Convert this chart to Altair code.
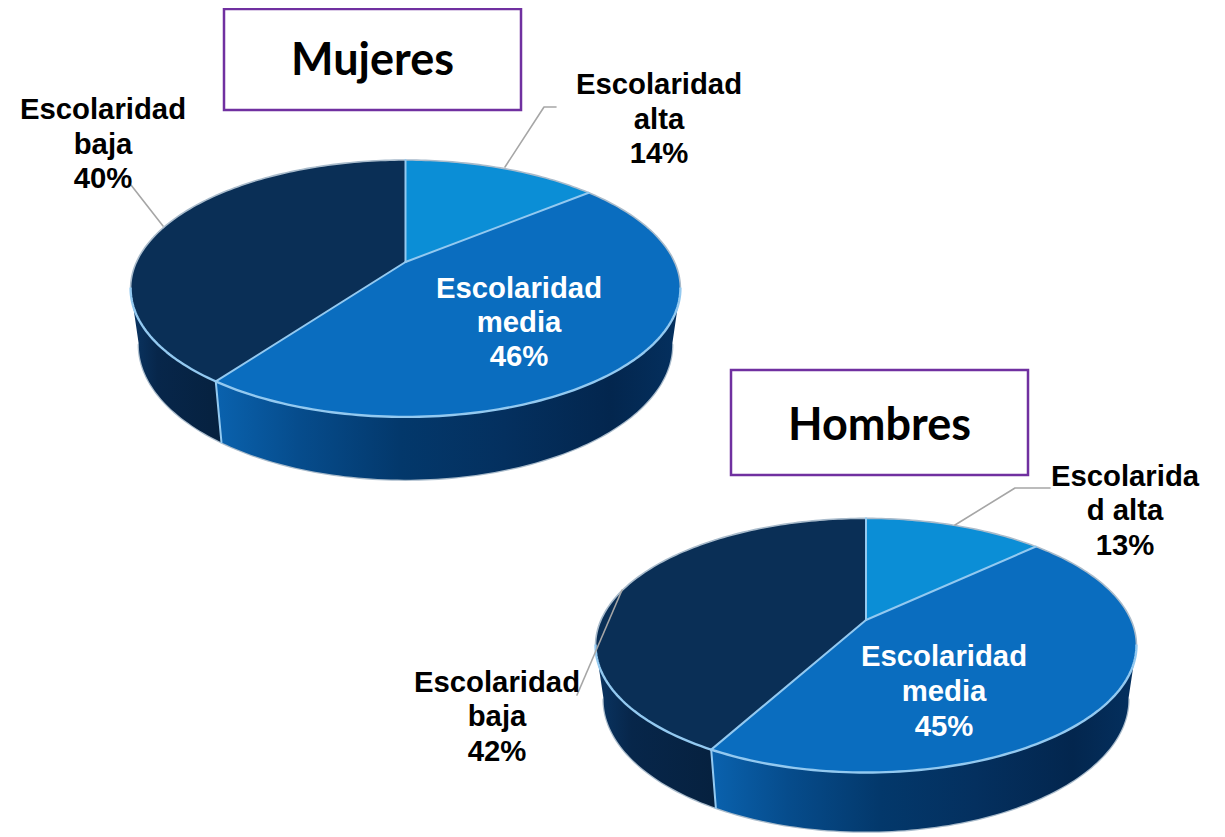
import math
import altair as alt
import pandas as pd

# --- chart values ---
categories = ["Escolaridad alta", "Escolaridad media", "Escolaridad baja"]
mujeres_values = [14, 46, 40]
hombres_values = [13, 45, 42]
titles = ["Mujeres", "Hombres"]

# --- layout (page pixels) ---
W, H = 1209, 829
X = alt.X("x:Q", axis=None, scale=alt.Scale(domain=[8, 8 + W]))
Y = alt.Y("y:Q", axis=None, scale=alt.Scale(domain=[8 + H, 8]))
PIES = [
    dict(values=mujeres_values, xa=405.5, ya=262, R=269, k=123, c=0.206, dy=55, s=0.97, sk=1.05),
    dict(values=hombres_values, xa=866, ya=620, R=265, k=122, c=0.20, dy=53, s=0.97, sk=1.04),
]
C_LIGHT, C_MID, C_DARK = "#0B8ED6", "#0A6DBF", "#0A2F56"
RIM = "#93C9F0"
EDGE = "#A9BBCB"


def project(p, theta, bottom=False):
    u, v = math.sin(theta), math.cos(theta)
    d = 1 + p["c"] * v
    sx = p["s"] if bottom else 1
    sy = p["sk"] if bottom else 1
    dy = p["dy"] if bottom else 0
    return p["xa"] + sx * p["R"] * u / d, p["ya"] + dy - sy * p["k"] * v / d


def arc(p, a0, a1, bottom=False):
    n = max(2, int(abs(a1 - a0) / 0.02))
    return [project(p, a0 + (a1 - a0) * i / n, bottom) for i in range(n + 1)]


def frame(points):
    return pd.DataFrame([{"x": x, "y": y, "i": i} for i, (x, y) in enumerate(points)])


def shape(points, fill=None, stroke=None, width=1.5, closed=False):
    pts = list(points) + ([points[0]] if closed else [])
    kw = {"strokeWidth": width, "strokeCap": "round", "strokeJoin": "round", "clip": False}
    if fill is not None:
        kw["fill"] = fill
    kw["stroke"] = stroke if stroke is not None else "transparent"
    return alt.Chart(frame(pts)).mark_line(**kw).encode(x=X, y=Y, order=alt.Order("i:Q"))


def grad(stops):
    return alt.Gradient(
        gradient="linear", x1=0, x2=1, y1=0, y2=0,
        stops=[alt.GradientStop(offset=o, color=c) for o, c in stops],
    )


def pie_layers(p):
    a, m, b = p["values"]
    total = a + m + b
    t1 = 2 * math.pi * a / total
    t2 = 2 * math.pi * (a + m) / total
    tr = math.acos(-p["c"])
    tl = 2 * math.pi - tr
    apex = (p["xa"], p["ya"])
    out = []
    # soft outer edge of the wall
    out.append(shape(arc(p, tr, tl, True), stroke=EDGE, width=2.5))
    # walls
    out.append(shape(arc(p, t2, tl) + arc(p, tl, t2, True), closed=True,
                     fill=grad([(0, "#0A3563"), (0.3, "#07264A"), (1, "#06213F")])))
    out.append(shape(arc(p, tr, t2) + arc(p, t2, tr, True), closed=True,
                     fill=grad([(0, "#0A62AE"), (0.18, "#064C8C"), (0.4, "#03386B"),
                                (0.62, "#04305F"), (0.85, "#03264E"), (1, "#04305F")])))
    # top slices
    out.append(shape([apex] + arc(p, t2, 2 * math.pi), closed=True, fill=C_DARK))
    out.append(shape([apex] + arc(p, t1, t2), closed=True, fill=C_MID))
    out.append(shape([apex] + arc(p, 0, t1), closed=True, fill=C_LIGHT))
    # back edge, rim and slice separators
    out.append(shape(arc(p, tl, 2 * math.pi + tr), stroke=EDGE, width=1.6))
    out.append(shape(arc(p, tr, tl), stroke=RIM, width=2.4))
    for t in (0, t1, t2):
        out.append(shape([apex, project(p, t)], stroke=RIM, width=2))
    out.append(shape([project(p, t2), project(p, t2, True)], stroke=RIM, width=2))
    return out


# leader lines
leaders = [
    [(505, 167), (544, 107), (556, 107)],
    [(131, 185), (163, 226)],
    [(955, 525), (1015, 488), (1050, 488)],
    [(622, 590), (577, 695)],
]
leader_layers = [shape(l, stroke="#A6A6A6", width=1.6) for l in leaders]

# title boxes
boxes = pd.DataFrame([
    {"x": 224, "x2": 521, "y": 9, "y2": 110},
    {"x": 731, "x2": 1028, "y": 370, "y2": 475},
])
box_layer = alt.Chart(boxes).mark_rect(
    fill="white", stroke="#7030A0", strokeWidth=2.5, clip=False
).encode(x=X, x2="x2:Q", y=Y, y2="y2:Q")

title_rows = pd.DataFrame([
    {"x": 372.5, "y": 61, "t": titles[0]},
    {"x": 879.5, "y": 426, "t": titles[1]},
])
title_layer = alt.Chart(title_rows).mark_text(
    font="Lato", fontWeight="bold", fontSize=45, color="black", align="center", baseline="middle"
).encode(x=X, y=Y, text="t:N")


def pct(v):
    return f"{v}%"


label_rows = [
    (103, 109.5, "Escolaridad", "black"), (103, 144.5, "baja", "black"), (103, 178.5, pct(mujeres_values[2]), "black"),
    (659, 84.5, "Escolaridad", "black"), (659, 119.5, "alta", "black"), (659, 153.5, pct(mujeres_values[0]), "black"),
    (519, 288.5, "Escolaridad", "white"), (519, 322.5, "media", "white"), (519, 356.5, pct(mujeres_values[1]), "white"),
    (1125, 476.5, "Escolarida", "black"), (1125, 510.5, "d alta", "black"), (1125, 545.5, pct(hombres_values[0]), "black"),
    (944, 656.5, "Escolaridad", "white"), (944, 691.5, "media", "white"), (944, 726.5, pct(hombres_values[1]), "white"),
    (497, 682.5, "Escolaridad", "black"), (497, 716.5, "baja", "black"), (497, 751.5, pct(hombres_values[2]), "black"),
]
labels = pd.DataFrame(label_rows, columns=["x", "y", "t", "c"])
label_layer = alt.Chart(labels).mark_text(
    font="Liberation Sans", fontWeight="bold", fontSize=29.3, align="center", baseline="middle"
).encode(x=X, y=Y, text="t:N", color=alt.Color("c:N", scale=None, legend=None))

layers = []
for p in PIES:
    layers += pie_layers(p)
layers += [box_layer, title_layer] + leader_layers + [label_layer]

chart = alt.layer(*layers).properties(
    width=W, height=H, padding=0, autosize=alt.AutoSizeParams(type="none"),
    background="white",
).configure_view(stroke=None)

chart.save("out.html", embed_options={"renderer": "svg", "actions": False})
